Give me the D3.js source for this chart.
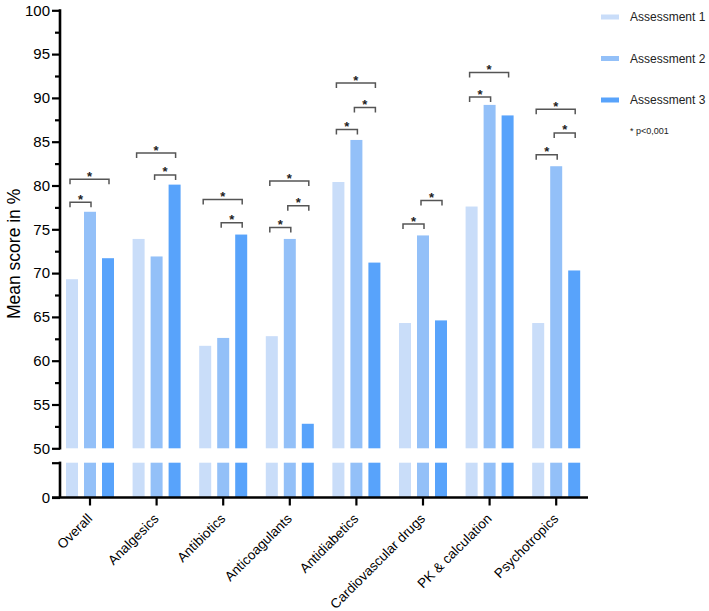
<!DOCTYPE html>
<html>
<head>
<meta charset="utf-8">
<script src="https://cdn.jsdelivr.net/npm/d3@7"></script>
<style>
  body { margin: 0; background: #fff; }
  svg { display: block; font-family: "Liberation Sans", Arial, Helvetica, sans-serif; }
</style>
</head>
<body>
<svg id="chart" width="709" height="611"></svg>
<script>
const categories = ["Overall", "Analgesics", "Antibiotics", "Anticoagulants", "Antidiabetics", "Cardiovascular drugs", "PK & calculation", "Psychotropics"];
const seriesNames = ["Assessment 1", "Assessment 2", "Assessment 3"];
const assessment1 = [69.3, 73.9, 61.7, 62.8, 80.4, 64.3, 77.6, 64.3];
const assessment2 = [77.0, 71.9, 62.6, 73.9, 85.2, 74.3, 89.2, 82.2];
const assessment3 = [71.7, 80.1, 74.4, 52.8, 71.2, 64.6, 88.0, 70.3];
const upperTicks = [50, 55, 60, 65, 70, 75, 80, 85, 90, 95, 100];
const lowerTicks = [0];
// significance brackets: [category index, from series, to series, bracket level (%)]
const brackets = [
  [0, 0, 1, 78.1], [0, 0, 2, 80.7],
  [1, 0, 2, 83.7], [1, 1, 2, 81.2],
  [2, 0, 2, 78.4], [2, 1, 2, 75.75],
  [3, 0, 2, 80.5], [3, 1, 2, 77.7], [3, 0, 1, 75.2],
  [4, 0, 2, 91.7], [4, 1, 2, 88.9], [4, 0, 1, 86.4],
  [5, 1, 2, 78.3], [5, 0, 1, 75.6],
  [6, 0, 2, 92.9], [6, 0, 1, 90.1],
  [7, 0, 2, 88.7], [7, 1, 2, 86.0], [7, 0, 1, 83.5]
];
const noteText = "* p<0,001";
const yLabel = "Mean score in %";

const colors = ["#c9ddf9", "#93c0f8", "#58a3fb"];
const seriesValues = [assessment1, assessment2, assessment3];

const svg = d3.select("#chart");

const x = d3.scaleBand().domain(categories).range([56.7, 589.5]).padding(0);
const xs = d3.scalePoint().domain(d3.range(3)).range([-18, 18]);
const barW = 12;
const cx = (ci, si) => x(categories[ci]) + x.bandwidth() / 2 + xs(si);

const yTop = d3.scaleLinear().domain([50, 100]).range([448.3, 10.3]);
const yLow = d3.scaleLinear().domain([0, 50]).range([497.5, 462.7]);

// bars
const data = [];
categories.forEach((c, ci) => seriesValues.forEach((vals, si) => data.push({ ci, si, v: vals[ci] })));

const gBars = svg.append("g");
gBars.selectAll("rect.up").data(data).join("rect")
  .attr("class", "up")
  .attr("x", d => cx(d.ci, d.si) - barW / 2)
  .attr("width", barW)
  .attr("y", d => yTop(d.v))
  .attr("height", d => yTop(50) - yTop(d.v))
  .attr("fill", d => colors[d.si]);
gBars.selectAll("rect.low").data(data).join("rect")
  .attr("class", "low")
  .attr("x", d => cx(d.ci, d.si) - barW / 2)
  .attr("width", barW)
  .attr("y", yLow(50))
  .attr("height", yLow(0) - yLow(50))
  .attr("fill", d => colors[d.si]);

// Y axis upper segment
const axisX = 60;
const gYUp = svg.append("g").attr("transform", `translate(${axisX},0)`)
  .call(d3.axisLeft(yTop).tickValues(upperTicks).tickSize(8).tickPadding(2).tickFormat(d3.format("d")));
const gYMinor = svg.append("g").attr("transform", `translate(${axisX},0)`)
  .call(d3.axisLeft(yTop).tickValues(d3.range(52.5, 100, 5)).tickSize(5).tickFormat(""));
const gYLow = svg.append("g").attr("transform", `translate(${axisX},0)`)
  .call(d3.axisLeft(yLow).tickValues([0, 50]).tickSize(8).tickPadding(2).tickFormat(d => d === 0 ? "0" : ""));

[gYUp, gYMinor, gYLow].forEach(g => {
  g.select(".domain").remove();
  g.selectAll(".tick line").attr("stroke", "#000").attr("stroke-width", 2.2);
  g.selectAll(".tick text").attr("font-size", 15).attr("fill", "#000");
});
svg.append("line").attr("x1", axisX).attr("x2", axisX)
  .attr("y1", yTop(100) - 1).attr("y2", yTop(50) + 1.1)
  .attr("stroke", "#000").attr("stroke-width", 2.6);
svg.append("line").attr("x1", axisX).attr("x2", axisX)
  .attr("y1", yLow(50) - 1.1).attr("y2", yLow(0))
  .attr("stroke", "#000").attr("stroke-width", 2.6);

// X axis
const gX = svg.append("g").attr("transform", `translate(0,${yLow(0)})`)
  .call(d3.axisBottom(x).tickSize(8).tickSizeOuter(0).tickFormat(""));
gX.select(".domain").remove();
gX.selectAll(".tick line").attr("stroke", "#000").attr("stroke-width", 2.2);
svg.append("line").attr("x1", 52).attr("x2", 588)
  .attr("y1", yLow(0)).attr("y2", yLow(0))
  .attr("stroke", "#000").attr("stroke-width", 2.6);
svg.append("g").selectAll("text").data(categories).join("text")
  .attr("transform", d => `translate(${x(d) + x.bandwidth() / 2 + 3},${yLow(0) + 22}) rotate(-45)`)
  .attr("text-anchor", "end")
  .attr("font-size", 13.5).attr("fill", "#000")
  .text(d => d);

// brackets
const gBr = svg.append("g");
brackets.forEach(([ci, a, b, lvl]) => {
  const x1 = cx(ci, a) - 2, x2 = cx(ci, b) + 1, yy = yTop(lvl);
  gBr.append("path")
    .attr("d", `M${x1},${yy + 5}V${yy}H${x2}V${yy + 5}`)
    .attr("fill", "none").attr("stroke", "#555").attr("stroke-width", 1.5);
  gBr.append("text")
    .attr("x", (x1 + x2) / 2).attr("y", yy + 1.5)
    .attr("text-anchor", "middle").attr("font-size", 13).attr("font-weight", "bold").attr("fill", "#222")
    .text("*");
});

// y label
svg.append("text")
  .attr("transform", `translate(20,${(yTop(100) + yLow(0)) / 2}) rotate(-90)`)
  .attr("text-anchor", "middle").attr("font-size", 17.5).attr("fill", "#000")
  .text(yLabel);

// legend
const gL = svg.append("g");
seriesNames.forEach((s, i) => {
  const ly = 17 + i * 41.5;
  gL.append("rect").attr("x", 601).attr("y", ly - 2.5).attr("width", 18).attr("height", 5).attr("fill", colors[i]);
  gL.append("text").attr("x", 630).attr("y", ly).attr("dominant-baseline", "central")
    .attr("font-size", 12).attr("fill", "#222").text(s);
});
gL.append("text").attr("x", 630).attr("y", 131).attr("dominant-baseline", "central")
  .attr("font-size", 9).attr("fill", "#222").text(noteText);
</script>
</body>
</html>
